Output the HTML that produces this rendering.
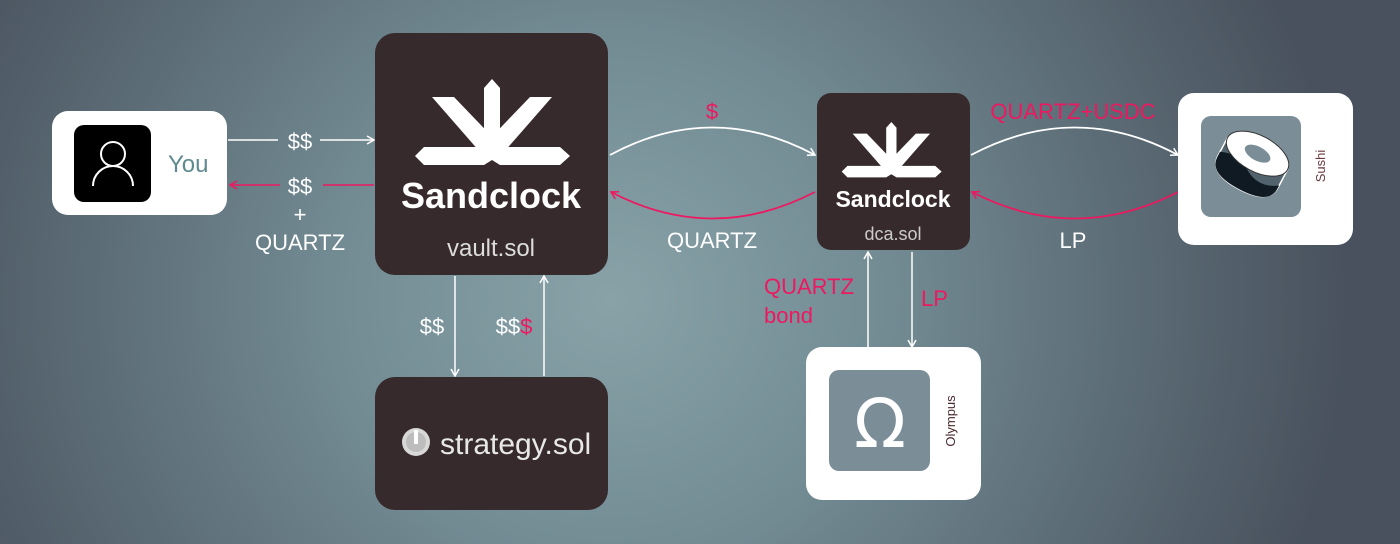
<!DOCTYPE html>
<html><head><meta charset="utf-8"><style>
html,body{margin:0;padding:0;width:1400px;height:544px;overflow:hidden}
body{background:radial-gradient(ellipse 740px 700px at 610px 300px,#88a2a8 0%,#748d95 35%,#5c6c76 70%,#48515d 100%);font-family:"Liberation Sans",sans-serif}
svg{position:absolute;left:0;top:0}
</style></head><body>
<svg width="1400" height="544" viewBox="0 0 1400 544" font-family="Liberation Sans, sans-serif">
<defs>
<g id="logo" fill="#fff">
<polygon points="415,156 424,147 560,147 570,156 560,165 500,165 492,160 484,165 424,165"/>
<polygon points="484,150 484,88 492,79 500,88 500,150"/>
<polygon points="432,97 454,97 502,147 480,152"/>
<polygon points="552,97 530,97 482,147 504,152"/>
</g>
<marker id="aw" markerWidth="10" markerHeight="10" refX="8" refY="5" orient="auto" markerUnits="userSpaceOnUse"><path d="M1,1 L8,5 L1,9" fill="none" stroke="#fff" stroke-width="1.5"/></marker>
<marker id="ap" markerWidth="10" markerHeight="10" refX="8" refY="5" orient="auto" markerUnits="userSpaceOnUse"><path d="M1,1 L8,5 L1,9" fill="none" stroke="#ee1860" stroke-width="1.5"/></marker>
</defs>

<rect x="52" y="111" width="175" height="104" rx="16" fill="#fff"/>
<rect x="74" y="125" width="77" height="77" rx="10" fill="#000"/>
<circle cx="113" cy="154" r="12" fill="none" stroke="#fff" stroke-width="2"/>
<path d="M93,186 A20,20 0 0 1 133,186" fill="none" stroke="#fff" stroke-width="2"/>
<text x="168" y="172" font-size="24" fill="#5f8a8e">You</text>

<line x1="228" y1="140" x2="278" y2="140" stroke="#fff" stroke-width="1.5"/>
<line x1="320" y1="140" x2="374" y2="140" stroke="#fff" stroke-width="1.5" marker-end="url(#aw)"/>
<text x="300" y="149" font-size="22" fill="#fff" text-anchor="middle">$$</text>
<line x1="280" y1="185" x2="230" y2="185" stroke="#ee1860" stroke-width="1.5" marker-end="url(#ap)"/>
<line x1="323" y1="185" x2="374" y2="185" stroke="#ee1860" stroke-width="1.5"/>
<text x="300" y="194" font-size="22" fill="#fff" text-anchor="middle">$$</text>
<text x="300" y="222" font-size="22" fill="#fff" text-anchor="middle">+</text>
<text x="300" y="250" font-size="22" fill="#fff" text-anchor="middle">QUARTZ</text>

<rect x="375" y="33" width="233" height="242" rx="20" fill="#362a2c"/>
<use href="#logo"/>
<text x="491" y="208" font-size="36" font-weight="bold" fill="#fff" text-anchor="middle">Sandclock</text>
<text x="491" y="256" font-size="24" fill="#ddd" text-anchor="middle">vault.sol</text>

<line x1="455" y1="276" x2="455" y2="376" stroke="#fff" stroke-width="1.5" marker-end="url(#aw)"/>
<line x1="544" y1="376" x2="544" y2="276" stroke="#fff" stroke-width="1.5" marker-end="url(#aw)"/>
<text x="432" y="334" font-size="22" fill="#fff" text-anchor="middle">$$</text>
<text x="514" y="334" font-size="22" fill="#fff" text-anchor="middle">$$<tspan fill="#ee1860">$</tspan></text>

<rect x="375" y="377" width="233" height="133" rx="20" fill="#362a2c"/>
<circle cx="416" cy="442" r="14" fill="#d8d8d8"/>
<circle cx="416" cy="442" r="10" fill="#bdbdbd"/>
<rect x="414" y="430" width="4" height="14" fill="#fff"/>
<text x="440" y="454" font-size="30" fill="#e8e8e8">strategy.sol</text>

<path d="M610,155 Q712,100 815,155" fill="none" stroke="#fff" stroke-width="1.8" marker-end="url(#aw)"/>
<text x="712" y="119" font-size="22" fill="#ee1860" text-anchor="middle">$</text>
<path d="M815,192 Q712,245 611,192" fill="none" stroke="#ee1860" stroke-width="1.8" marker-end="url(#ap)"/>
<text x="712" y="248" font-size="22" fill="#fff" text-anchor="middle">QUARTZ</text>

<rect x="817" y="93" width="153" height="157" rx="14" fill="#362a2c"/>
<use href="#logo" transform="translate(574,71) scale(0.645)"/>
<text x="893" y="207" font-size="23" font-weight="bold" fill="#fff" text-anchor="middle">Sandclock</text>
<text x="893" y="240" font-size="18" fill="#ccc" text-anchor="middle">dca.sol</text>

<path d="M971,155 Q1075,100 1178,155" fill="none" stroke="#fff" stroke-width="1.8" marker-end="url(#aw)"/>
<text x="1073" y="119" font-size="22" fill="#ee1860" text-anchor="middle">QUARTZ+USDC</text>
<path d="M1178,192 Q1075,245 972,192" fill="none" stroke="#ee1860" stroke-width="1.8" marker-end="url(#ap)"/>
<text x="1073" y="248" font-size="22" fill="#fff" text-anchor="middle">LP</text>

<rect x="1178" y="93" width="175" height="152" rx="16" fill="#fff"/>
<rect x="1201" y="116" width="100" height="101" rx="10" fill="#7b8e98"/>
<g transform="rotate(28 1251 166)">
<path d="M1217,152 L1217,172 Q1217,192 1251,192 Q1285,192 1285,172 L1285,152 Z" fill="#52636d" stroke="#fff" stroke-width="1.5"/>
<path d="M1217,168 Q1235,160 1251,172 Q1268,182 1285,170 L1285,174 Q1285,192 1251,192 Q1217,192 1217,174 Z" fill="#0f1a22"/>
<ellipse cx="1251" cy="152" rx="34" ry="18" fill="#fff" stroke="#333" stroke-width="1"/>
<ellipse cx="1251" cy="152" rx="14" ry="7" fill="#7b8e98"/>
</g>
<text transform="translate(1325 166) rotate(-90)" font-size="13" fill="#6a3a3e" text-anchor="middle">Sushi</text>

<line x1="868" y1="347" x2="868" y2="252" stroke="#fff" stroke-width="1.5" marker-end="url(#aw)"/>
<line x1="912" y1="252" x2="912" y2="347" stroke="#fff" stroke-width="1.5" marker-end="url(#aw)"/>
<text x="764" y="294" font-size="22" fill="#ee1860">QUARTZ</text>
<text x="764" y="323" font-size="22" fill="#ee1860">bond</text>
<text x="921" y="306" font-size="22" fill="#ee1860">LP</text>

<rect x="806" y="347" width="175" height="153" rx="16" fill="#fff"/>
<rect x="829" y="370" width="101" height="101" rx="10" fill="#7b8e98"/>
<text x="880" y="447" font-size="68" fill="#fff" text-anchor="middle" font-family="DejaVu Sans, sans-serif">Ω</text>
<text transform="translate(955 421) rotate(-90)" font-size="13" fill="#4a2a2e" text-anchor="middle">Olympus</text>
</svg>
</body></html>
